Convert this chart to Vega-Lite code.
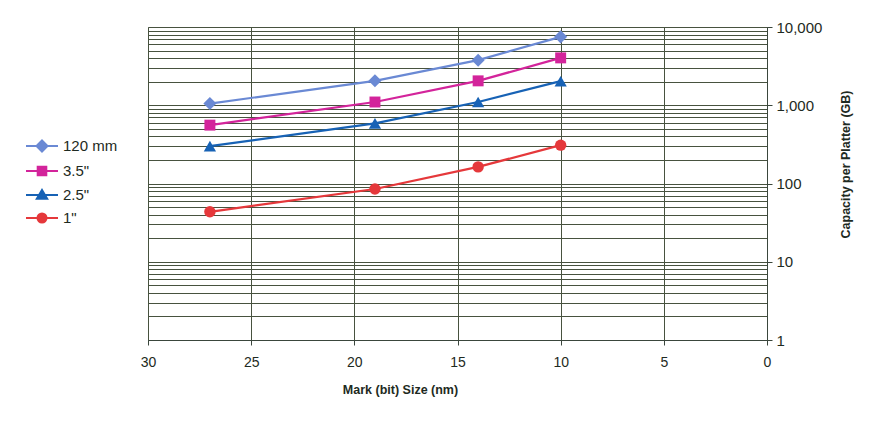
{
  "$schema": "https://vega.github.io/schema/vega-lite/v6.json",
  "autosize": "none",
  "width": 619,
  "height": 313,
  "padding": {"left": 148, "top": 27, "right": 112, "bottom": 81},
  "background": "white",
  "config": {
    "font": "Liberation Sans",
    "view": {"stroke": "#8a9090", "strokeWidth": 1}
  },
  "data": {
    "values": [
      {"size": 27, "series": "120 mm", "capacity": 1050},
      {"size": 19, "series": "120 mm", "capacity": 2050},
      {"size": 14, "series": "120 mm", "capacity": 3770},
      {"size": 10, "series": "120 mm", "capacity": 7480},
      {"size": 27, "series": "3.5\"", "capacity": 557},
      {"size": 19, "series": "3.5\"", "capacity": 1100},
      {"size": 14, "series": "3.5\"", "capacity": 2050},
      {"size": 10, "series": "3.5\"", "capacity": 4030},
      {"size": 27, "series": "2.5\"", "capacity": 300},
      {"size": 19, "series": "2.5\"", "capacity": 586},
      {"size": 14, "series": "2.5\"", "capacity": 1100},
      {"size": 10, "series": "2.5\"", "capacity": 2030},
      {"size": 27, "series": "1\"", "capacity": 43.5},
      {"size": 19, "series": "1\"", "capacity": 85},
      {"size": 14, "series": "1\"", "capacity": 163},
      {"size": 10, "series": "1\"", "capacity": 309}
    ]
  },
  "encoding": {
    "x": {
      "field": "size",
      "type": "quantitative",
      "scale": {"domain": [0, 30], "reverse": true, "nice": false},
      "axis": {
        "values": [0, 5, 10, 15, 20, 25, 30],
        "title": "Mark (bit) Size (nm)",
        "titleFont": "Liberation Sans",
        "titleFontSize": 12.5,
        "titleFontWeight": "bold",
        "titleColor": "#1e2a22",
        "titleX": 252,
        "titleY": 43,
        "titleAnchor": "middle",
        "titleAlign": "center",
        "labelFontSize": 14,
        "labelColor": "#1e2a22",
        "labelPadding": 10,
        "labelFlush": false,
        "tickSize": 5,
        "tickColor": "#3a463c",
        "domainColor": "#3a463c",
        "gridColor": "#47523f",
        "gridOpacity": 1,
        "gridWidth": 1
      }
    },
    "y": {
      "field": "capacity",
      "type": "quantitative",
      "scale": {"type": "log", "domain": [1, 10000], "nice": false},
      "axis": {
        "orient": "right",
        "values": [1,2,3,4,5,6,7,8,9,10,20,30,40,50,60,70,80,90,100,200,300,400,500,600,700,800,900,1000,2000,3000,4000,5000,6000,7000,8000,9000,10000],
        "labelExpr": "abs(log(datum.value)/LN10 - round(log(datum.value)/LN10)) < 0.001 ? format(datum.value, ',') : ''",
        "tickOpacity": {"condition": {"test": "abs(log(datum.value)/LN10 - round(log(datum.value)/LN10)) < 0.001", "value": 1}, "value": 0},
        "title": "Capacity per Platter (GB)",
        "titleAngle": 270,
        "titleFontSize": 12.5,
        "titleFontWeight": "bold",
        "titleColor": "#1e2a22",
        "titleX": 78,
        "titleY": 137,
        "titleAlign": "center",
        "titleBaseline": "middle",
        "labelFontSize": 15,
        "labelColor": "#1e2a22",
        "labelPadding": 4,
        "labelFlush": false,
        "labelOverlap": false,
        "tickSize": 5,
        "tickColor": "#3a463c",
        "domainColor": "#3a463c",
        "gridColor": "#47523f",
        "gridOpacity": 1,
        "gridWidth": 1
      }
    },
    "color": {
      "field": "series",
      "type": "nominal",
      "scale": {
        "domain": ["120 mm", "3.5\"", "2.5\"", "1\""],
        "range": ["#6a89d4", "#d3249b", "#1762b5", "#e5383b"]
      },
      "legend": {
        "title": null,
        "orient": "none",
        "legendX": -117,
        "legendY": 108,
        "labelFontSize": 15,
        "labelColor": "#1e2a22",
        "labelOffset": 10,
        "symbolSize": 400,
        "rowPadding": 4,
        "encode": {
          "symbols": {
            "update": {
              "shape": {"signal": "['M-1.6,0H1.6M0,-0.55L0.55,0L0,0.55L-0.55,0Z','M-1.6,0H1.6M-0.43,-0.43H0.43V0.43H-0.43Z','M-1.6,0H1.6M0,-0.5L0.52,0.38H-0.52Z','M-1.6,0H1.6M0.45,0A0.45,0.45 0 1,1 -0.45,0A0.45,0.45 0 1,1 0.45,0Z'][datum.index]"},
              "fill": {"signal": "scale('color', datum.value)"},
              "stroke": {"signal": "scale('color', datum.value)"},
              "strokeWidth": {"value": 2},
              "opacity": {"value": 1}
            }
          }
        }
      }
    }
  },
  "layer": [
    {
      "mark": {"type": "line", "strokeWidth": 2.2}
    },
    {
      "transform": [{"filter": {"field": "series", "equal": "120 mm"}}],
      "mark": {"type": "point", "shape": "diamond", "filled": true, "opacity": 1, "size": 170}
    },
    {
      "transform": [{"filter": {"field": "series", "equal": "3.5\""}}],
      "mark": {"type": "point", "shape": "square", "filled": true, "opacity": 1, "size": 120}
    },
    {
      "transform": [{"filter": {"field": "series", "equal": "2.5\""}}],
      "mark": {"type": "point", "shape": "triangle-up", "filled": true, "opacity": 1, "size": 150}
    },
    {
      "transform": [{"filter": {"field": "series", "equal": "1\""}}],
      "mark": {"type": "point", "shape": "circle", "filled": true, "opacity": 1, "size": 130}
    }
  ]
}
